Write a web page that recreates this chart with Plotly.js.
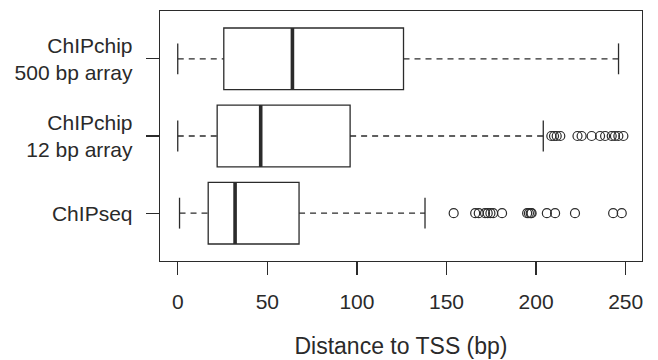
<!DOCTYPE html>
<html><head><meta charset="utf-8">
<script src="https://cdn.plot.ly/plotly-3.0.1.min.js"></script>
<style>html,body{margin:0;padding:0;background:#fff}</style>
</head><body><div id="chart" style="width:658px;height:360px"></div>
<script>
// Groups, bottom to top
const categories = ["ChIPseq", "ChIPchip<br>12 bp array", "ChIPchip<br>500 bp array"];
const positions = [0, 1, 2];
const lowerWhisker = [1, 0, 0];
const q1 = [17, 22, 25.7];
const median = [32, 46.3, 64];
const q3 = [67.7, 96.2, 126];
const upperWhisker = [138, 204, 246];
const outliersChIPseq = [154, 166, 168, 171.5, 173, 174.5, 176, 181, 195, 196, 197, 197.5, 206, 210.6, 221.7, 243, 247.8];
const outliers12bp = [208.5, 210, 211.5, 213.5, 223.1, 225.4, 231, 235.7, 238.5, 242.2, 244, 245.9, 248.7];
const outliers500bp = [];
const xTicks = [0, 50, 100, 150, 200, 250];

const ink = '#2b2b2b';
const boxHalf = 0.4, capHalf = 0.2;

const wx = [], wy = [], cx = [], cy = [], mx = [], my = [];
positions.forEach((p, i) => {
  wx.push(lowerWhisker[i], q1[i], null, q3[i], upperWhisker[i], null);
  wy.push(p, p, null, p, p, null);
  cx.push(lowerWhisker[i], lowerWhisker[i], null, upperWhisker[i], upperWhisker[i], null);
  cy.push(p - capHalf, p + capHalf, null, p - capHalf, p + capHalf, null);
  mx.push(median[i], median[i], null);
  my.push(p - boxHalf, p + boxHalf, null);
});

const outlierSets = [outliersChIPseq, outliers12bp, outliers500bp];
const ox = [], oy = [];
outlierSets.forEach((arr, i) => arr.forEach(v => { ox.push(v); oy.push(positions[i]); }));

const traces = [
  {type: 'scatter', mode: 'lines', x: wx, y: wy, line: {color: ink, width: 1.3, dash: '6px,5px'}, hoverinfo: 'skip'},
  {type: 'scatter', mode: 'lines', x: cx, y: cy, line: {color: ink, width: 1.3}, hoverinfo: 'skip'},
  {type: 'box', orientation: 'h', y: positions, q1: q1, median: median, q3: q3,
   lowerfence: q1, upperfence: q3, width: 2 * boxHalf, fillcolor: '#ffffff',
   line: {color: ink, width: 1.3}, boxpoints: false, hoverinfo: 'skip'},
  {type: 'scatter', mode: 'lines', x: mx, y: my, line: {color: ink, width: 3.6}, hoverinfo: 'skip'},
  {type: 'scatter', mode: 'markers', x: ox, y: oy,
   marker: {symbol: 'circle-open', size: 9, color: ink, line: {width: 1.2, color: ink}}, hoverinfo: 'skip'}
];

const layout = {
  width: 658, height: 360,
  margin: {l: 160, r: 16, t: 11, b: 99},
  showlegend: false,
  paper_bgcolor: '#fff', plot_bgcolor: '#fff',
  font: {family: 'Liberation Sans, Arial, sans-serif', color: '#2a2a2a', size: 21},
  xaxis: {
    range: [-9.9, 259.1], tickvals: xTicks, ticktext: xTicks.map(String),
    showgrid: false, zeroline: false, showline: true, mirror: true,
    linecolor: ink, linewidth: 1.3, ticks: 'outside', ticklen: 13, tickwidth: 1.3, tickcolor: ink,
    ticklabelstandoff: 8,
    tickfont: {size: 21},
    title: {text: 'Distance to TSS (bp)', font: {size: 23}, standoff: 26}
  },
  yaxis: {
    range: [-0.62, 2.62], tickvals: positions, ticktext: categories,
    showgrid: false, zeroline: false, showline: true, mirror: true,
    linecolor: ink, linewidth: 1.3, ticks: 'outside', ticklen: 13, tickwidth: 1.3, tickcolor: ink,
    ticklabelstandoff: 9,
    tickfont: {size: 21}
  }
};

Plotly.newPlot('chart', traces, layout, {displayModeBar: false, staticPlot: true});
</script>
</body></html>
